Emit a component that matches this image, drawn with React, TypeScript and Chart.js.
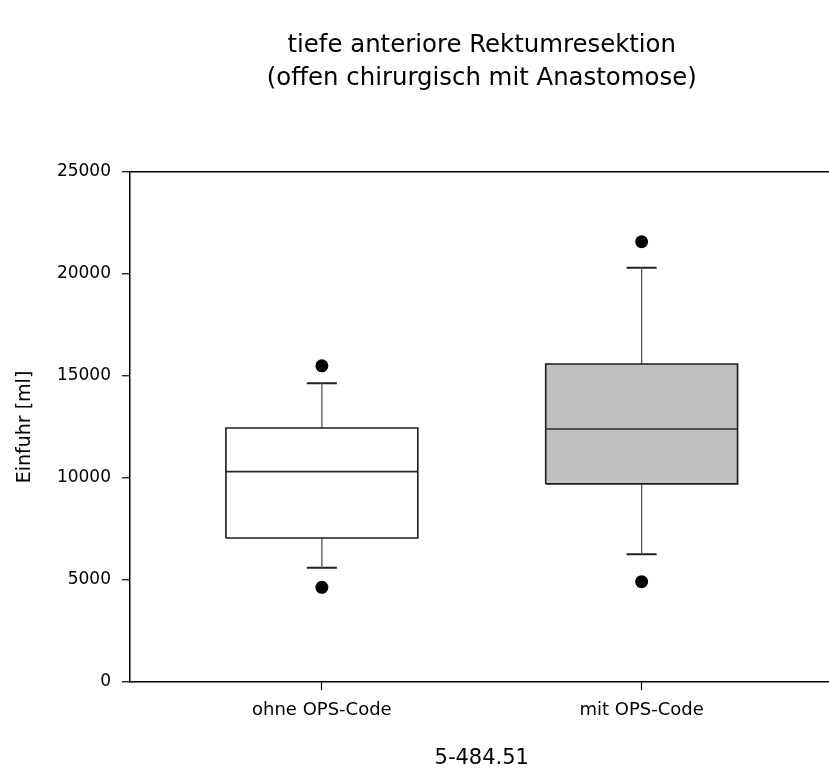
import { useEffect, useRef } from 'react';
import { Chart, registerables } from 'chart.js';

Chart.register(...registerables);

const titleLines = ['tiefe anteriore Rektumresektion', '(offen chirurgisch mit Anastomose)'];
const xAxisTitle = '5-484.51';
const yAxisTitle = 'Einfuhr [ml]';

const categories = ['ohne OPS-Code', 'mit OPS-Code'];
const whiskerLow = [5600, 6260];
const q1 = [7060, 9710];
const median = [10310, 12400];
const q3 = [12450, 15590];
const whiskerHigh = [14640, 20310];
const outliers = [
  [4640, 15500],
  [4920, 21580],
];
const yTicks = [0, 5000, 10000, 15000, 20000, 25000];

const boxFill = ['#ffffff', '#c0c0c0'];
const BOX_HALF = 0.3;
const CAP_HALF = 0.047;
const FONT = 'DejaVu Sans';

export default function App() {
  const ref = useRef<HTMLCanvasElement>(null);

  useEffect(() => {
    document.documentElement.style.overflow = 'hidden';
    document.body.style.overflow = 'hidden';
    const datasets: any[] = [];
    categories.forEach((_, i) => {
      const x = i + 1;
      const base = { showLine: true, pointRadius: 0, tension: 0, fill: false };
      datasets.push({
        ...base,
        label: 'median',
        data: [
          { x: x - BOX_HALF, y: median[i] },
          { x: x + BOX_HALF, y: median[i] },
        ],
        borderColor: '#2a2a2a',
        borderWidth: 1.6,
      });
      datasets.push({
        ...base,
        label: 'box',
        data: [
          { x: x - BOX_HALF, y: q1[i] },
          { x: x + BOX_HALF, y: q1[i] },
          { x: x + BOX_HALF, y: q3[i] },
          { x: x - BOX_HALF, y: q3[i] },
          { x: x - BOX_HALF, y: q1[i] },
        ],
        fill: 'shape',
        backgroundColor: boxFill[i],
        borderColor: '#1a1a1a',
        borderWidth: 1.6,
        borderJoinStyle: 'miter',
      });
      datasets.push({
        ...base,
        label: 'whiskerHigh',
        data: [
          { x, y: q3[i] },
          { x, y: whiskerHigh[i] },
        ],
        borderColor: '#555',
        borderWidth: 1.3,
      });
      datasets.push({
        ...base,
        label: 'whiskerLow',
        data: [
          { x, y: q1[i] },
          { x, y: whiskerLow[i] },
        ],
        borderColor: '#555',
        borderWidth: 1.3,
      });
      datasets.push({
        ...base,
        label: 'capHigh',
        data: [
          { x: x - CAP_HALF, y: whiskerHigh[i] },
          { x: x + CAP_HALF, y: whiskerHigh[i] },
        ],
        borderColor: '#222',
        borderWidth: 2,
      });
      datasets.push({
        ...base,
        label: 'capLow',
        data: [
          { x: x - CAP_HALF, y: whiskerLow[i] },
          { x: x + CAP_HALF, y: whiskerLow[i] },
        ],
        borderColor: '#222',
        borderWidth: 2,
      });
      datasets.push({
        label: 'outliers',
        showLine: false,
        data: outliers[i].map((y) => ({ x, y })),
        pointRadius: 6.5,
        pointBackgroundColor: '#000',
        pointBorderWidth: 0,
        backgroundColor: '#000',
        borderColor: '#000',
      });
    });

    const chart = new Chart(ref.current!, {
      type: 'scatter',
      data: { datasets },
      options: {
        responsive: true,
        maintainAspectRatio: false,
        animation: false,
        layout: { padding: 0 },
        plugins: {
          legend: { display: false },
          tooltip: { enabled: false },
          filler: { drawTime: 'beforeDatasetsDraw' },
          title: {
            display: true,
            text: titleLines,
            fullSize: false,
            color: '#000',
            font: { family: FONT, size: 24.4, weight: 'normal', lineHeight: 1.35 },
            padding: { top: 29.5, bottom: 76.6 },
          },
        },
        scales: {
          x: {
            type: 'linear',
            min: 0.4,
            max: 2.6,
            afterBuildTicks: (s: any) => {
              s.ticks = categories.map((_, i) => ({ value: i + 1 }));
            },
            afterFit: (s: any) => {
              s.height = 89;
            },
            grid: {
              drawOnChartArea: false,
              drawTicks: true,
              tickLength: 8,
              tickColor: '#000',
              tickWidth: 1.2,
            },
            border: { display: true, color: '#000', width: 1.5 },
            ticks: {
              callback: (v: any) => categories[Math.round(v) - 1] ?? '',
              color: '#000',
              font: { family: FONT, size: 18 },
              padding: 10,
              maxRotation: 0,
              autoSkip: false,
            },
            title: {
              display: true,
              text: xAxisTitle,
              color: '#000',
              font: { family: FONT, size: 21, weight: 'normal' },
              padding: { top: 0, bottom: 0 },
            },
          },
          y: {
            type: 'linear',
            min: 0,
            max: 25000,
            afterBuildTicks: (s: any) => {
              s.ticks = yTicks.map((v) => ({ value: v }));
            },
            afterFit: (s: any) => {
              s.width = 130;
            },
            grid: {
              drawOnChartArea: true,
              color: (ctx: any) => (ctx.tick && ctx.tick.value === 25000 ? '#000' : 'rgba(0,0,0,0)'),
              lineWidth: 1.5,
              drawTicks: true,
              tickLength: 8,
              tickColor: '#000',
              tickWidth: 1.2,
            },
            border: { display: true, color: '#000', width: 1.5 },
            ticks: {
              callback: (v: any) => String(v),
              color: '#000',
              font: { family: FONT, size: 17 },
              padding: 11,
            },
            title: {
              display: true,
              text: yAxisTitle,
              color: '#000',
              font: { family: FONT, size: 19, weight: 'normal' },
              padding: { top: 14, bottom: 0 },
            },
          },
        },
      },
    } as any);

    return () => chart.destroy();
  }, []);

  return (
    <div style={{ position: 'fixed', left: 0, top: 0, width: 840, height: 771, background: '#fff' }}>
      <canvas ref={ref} />
    </div>
  );
}
